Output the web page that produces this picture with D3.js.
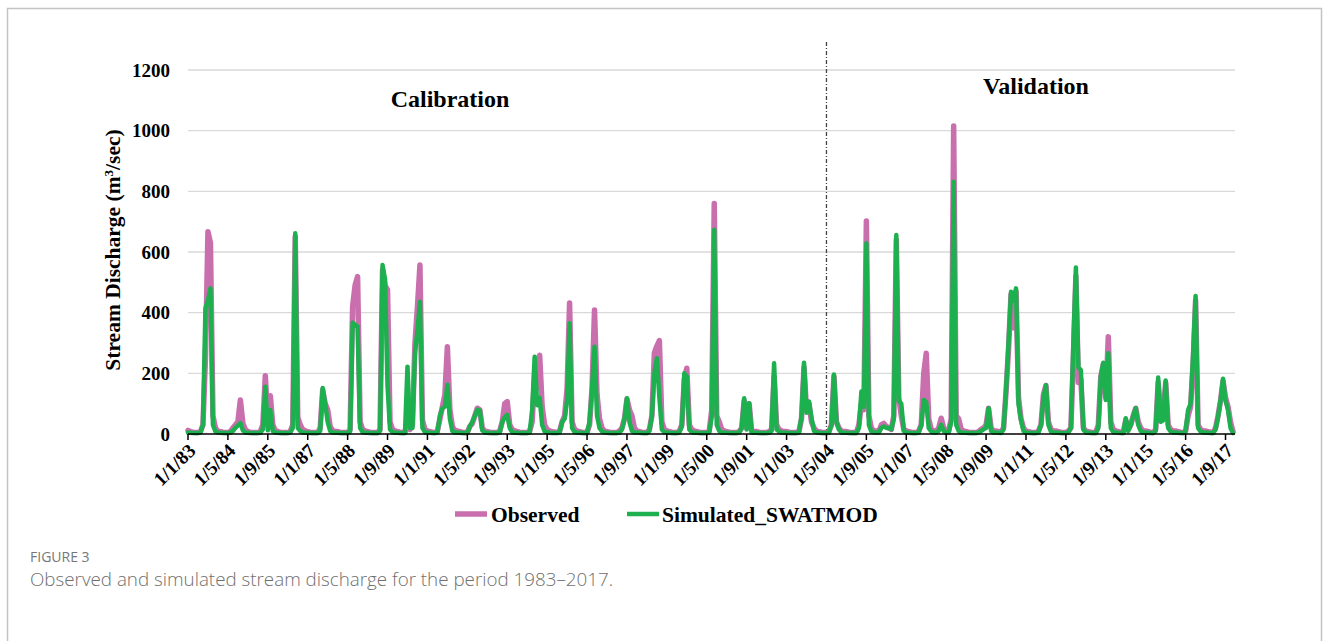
<!DOCTYPE html>
<html><head><meta charset="utf-8">
<script src="https://cdn.jsdelivr.net/npm/d3@7"></script>
<style>
body{margin:0;background:#fff;}
svg{display:block;}
</style></head><body>
<svg id="c" width="1329" height="641"></svg>
<script>
// ---- DATA ----
const startYear = 1983, endYear = 2017;
const yTicks = [0, 200, 400, 600, 800, 1000, 1200];
const tickLabels = ["1/1/83","1/5/84","1/9/85","1/1/87","1/5/88","1/9/89","1/1/91","1/5/92","1/9/93",
  "1/1/95","1/5/96","1/9/97","1/1/99","1/5/00","1/9/01","1/1/03","1/5/04","1/9/05","1/1/07",
  "1/5/08","1/9/09","1/1/11","1/5/12","1/9/13","1/1/15","1/5/16","1/9/17"];
const seriesNames = ["Observed", "Simulated_SWATMOD"];
const periodLabels = ["Calibration", "Validation"];
const splitLabel = "1/5/04";

// monthly observed discharge (m3/s), Jan..Dec for each year 1983..2017
const observed = [
  12, 8, 6, 5, 5, 8, 30, 250, 667, 630, 60, 20,      // 1983
  10, 8, 6, 5, 5, 8, 20, 30, 40, 112, 35, 15,        // 1984
  8, 6, 5, 5, 5, 8, 30, 192, 40, 126, 30, 12,        // 1985
  8, 6, 5, 5, 5, 8, 30, 650, 55, 30, 15, 10,         // 1986
  8, 6, 5, 5, 5, 20, 145, 100, 80, 25, 12, 8,        // 1987
  8, 6, 5, 5, 5, 15, 420, 490, 519, 40, 15, 10,      // 1988
  8, 6, 5, 5, 5, 15, 540, 490, 475, 40, 15, 10,      // 1989
  8, 6, 5, 5, 50, 15, 30, 300, 420, 557, 45, 15,     // 1990
  10, 8, 6, 5, 10, 50, 90, 130, 288, 80, 25, 12,     // 1991
  10, 8, 6, 5, 5, 25, 35, 60, 85, 80, 20, 10,        // 1992
  8, 6, 5, 5, 5, 10, 40, 100, 107, 30, 15, 10,       // 1993
  8, 6, 5, 5, 5, 10, 40, 200, 150, 260, 90, 30,      // 1994
  15, 10, 8, 6, 6, 10, 40, 60, 150, 432, 40, 15,     // 1995
  10, 8, 6, 5, 5, 30, 150, 409, 130, 50, 20, 10,     // 1996
  8, 6, 5, 5, 5, 10, 20, 50, 115, 80, 60, 20,        // 1997
  10, 8, 6, 5, 5, 15, 60, 267, 290, 308, 40, 15,     // 1998
  10, 8, 6, 5, 5, 10, 30, 180, 217, 30, 15, 10,      // 1999
  8, 6, 5, 5, 5, 10, 80, 760, 60, 40, 15, 10,        // 2000
  8, 6, 5, 5, 5, 8, 20, 110, 20, 100, 10, 8,         // 2001
  8, 6, 5, 5, 5, 8, 15, 190, 30, 15, 10, 8,          // 2002
  8, 6, 5, 5, 5, 10, 50, 220, 80, 100, 40, 20,       // 2003
  10, 8, 6, 5, 5, 8, 30, 190, 40, 20, 10, 8,         // 2004
  8, 6, 5, 5, 5, 30, 100, 80, 702, 60, 20, 10,       // 2005
  10, 8, 30, 35, 25, 20, 15, 60, 640, 120, 60, 15,   // 2006
  10, 8, 6, 5, 5, 10, 30, 200, 266, 50, 15, 10,      // 2007
  10, 20, 52, 20, 10, 10, 50, 1015, 60, 50, 15, 10,  // 2008
  8, 6, 5, 5, 5, 8, 15, 20, 30, 85, 20, 10,          // 2009
  10, 8, 6, 20, 140, 280, 460, 350, 470, 120, 50, 20,// 2010
  10, 8, 6, 5, 5, 10, 30, 130, 160, 40, 15, 10,      // 2011
  10, 8, 6, 5, 5, 10, 20, 250, 520, 170, 180, 20,    // 2012
  10, 8, 6, 5, 5, 30, 190, 230, 120, 321, 40, 15,    // 2013
  10, 8, 6, 5, 45, 15, 30, 60, 85, 40, 20, 10,       // 2014
  10, 8, 6, 5, 15, 170, 60, 60, 170, 30, 15, 10,     // 2015
  10, 8, 6, 5, 10, 60, 90, 230, 440, 30, 15, 10,     // 2016
  10, 8, 6, 5, 20, 60, 110, 175, 120, 90, 40, 8      // 2017
];

// monthly simulated discharge (SWAT-MODFLOW)
const simulated = [
  5, 4, 3, 3, 3, 5, 30, 415, 440, 480, 30, 8,        // 1983
  5, 4, 3, 3, 3, 5, 10, 20, 28, 36, 12, 5,           // 1984
  4, 3, 3, 3, 3, 4, 15, 156, 12, 79, 10, 5,          // 1985
  4, 3, 3, 3, 3, 5, 20, 662, 20, 10, 5, 4,           // 1986
  4, 3, 3, 3, 3, 10, 152, 100, 40, 10, 5, 4,         // 1987
  4, 3, 3, 3, 3, 8, 367, 360, 354, 20, 6, 4,         // 1988
  4, 3, 3, 3, 3, 10, 557, 510, 160, 15, 6, 4,        // 1989
  4, 3, 3, 3, 222, 20, 20, 267, 340, 436, 20, 6,     // 1990
  5, 4, 3, 3, 5, 60, 85, 90, 162, 50, 10, 5,         // 1991
  5, 4, 3, 3, 3, 25, 40, 60, 80, 78, 12, 5,          // 1992
  4, 3, 3, 3, 3, 5, 40, 55, 63, 20, 5, 4,            // 1993
  4, 3, 3, 3, 3, 5, 80, 255, 95, 119, 30, 8,         // 1994
  6, 4, 3, 3, 3, 5, 40, 50, 110, 365, 20, 6,         // 1995
  5, 4, 3, 3, 3, 40, 150, 288, 60, 20, 8, 5,         // 1996
  4, 3, 3, 3, 3, 5, 15, 50, 118, 40, 10, 5,          // 1997
  5, 4, 3, 3, 3, 10, 60, 200, 250, 120, 15, 6,       // 1998
  5, 4, 3, 3, 3, 5, 25, 200, 190, 15, 6, 4,          // 1999
  4, 3, 3, 3, 3, 5, 60, 673, 30, 10, 5, 4,           // 2000
  4, 3, 3, 3, 3, 5, 20, 118, 15, 101, 5, 4,          // 2001
  4, 3, 3, 3, 3, 5, 10, 233, 15, 8, 5, 4,            // 2002
  4, 3, 3, 3, 3, 5, 60, 235, 70, 107, 52, 10,        // 2003
  6, 4, 3, 3, 3, 5, 30, 196, 40, 15, 5, 4,           // 2004
  4, 3, 3, 3, 3, 20, 140, 90, 629, 30, 8, 5,         // 2005
  5, 5, 20, 25, 20, 20, 15, 50, 656, 110, 100, 10,   // 2006
  5, 4, 3, 3, 3, 5, 30, 112, 105, 20, 8, 5,          // 2007
  5, 10, 30, 10, 5, 5, 40, 832, 30, 10, 5, 4,        // 2008
  4, 3, 3, 3, 3, 5, 10, 15, 20, 85, 10, 5,           // 2009
  5, 4, 3, 15, 145, 300, 469, 440, 480, 100, 46, 10, // 2010
  5, 4, 3, 3, 3, 5, 30, 120, 161, 30, 8, 5,          // 2011
  5, 4, 3, 3, 3, 5, 20, 300, 549, 220, 211, 15,      // 2012
  5, 4, 3, 3, 3, 20, 190, 235, 112, 266, 20, 6,      // 2013
  5, 4, 3, 3, 52, 10, 30, 60, 85, 30, 10, 5,         // 2014
  5, 4, 3, 3, 10, 186, 40, 45, 176, 20, 8, 5,        // 2015
  5, 4, 3, 3, 10, 79, 100, 260, 455, 20, 8, 5,       // 2016
  5, 4, 3, 3, 15, 57, 110, 182, 110, 80, 20, 3       // 2017
];

// ---- CHART ----
const svg = d3.select("#c");
const serif = "'Liberation Serif','Times New Roman',serif";
const sans = "'Open Sans','Noto Sans',sans-serif";
const colObs = "#C96FAD", colSim = "#1DB04F";

// frame
svg.append("path").attr("d", "M7.5,700 V8.5 H1321.5 V700")
  .attr("fill", "none").attr("stroke", "#c4c4c4").attr("stroke-width", 1.5);

// month index helpers
const nMonths = (endYear - startYear + 1) * 12;
function labelToIndex(lbl) {
  const p = lbl.split("/");
  const m = +p[1], yy = +p[2];
  const yr = yy >= 50 ? 1900 + yy : 2000 + yy;
  return (yr - startYear) * 12 + (m - 1);
}

const x = d3.scaleLinear().domain([0, nMonths - 1]).range([188, 1233]);
const y = d3.scaleLinear().domain([0, 1200]).range([434, 70]);

// gridlines
svg.append("g").selectAll("line").data(yTicks.filter(d => d > 0)).join("line")
  .attr("x1", 188).attr("x2", 1235)
  .attr("y1", d => y(d)).attr("y2", d => y(d))
  .attr("stroke", "#d9d9d9").attr("stroke-width", 1.3);

// y tick labels
svg.append("g").selectAll("text").data(yTicks).join("text")
  .attr("x", 170).attr("y", d => y(d)).attr("dy", "0.35em")
  .attr("text-anchor", "end")
  .attr("font-family", serif).attr("font-weight", "bold").attr("font-size", 19)
  .attr("fill", "#000").text(d => d);

// y axis title
const yt = svg.append("text")
  .attr("transform", "translate(120,250) rotate(-90)")
  .attr("text-anchor", "middle")
  .attr("font-family", serif).attr("font-weight", "bold").attr("font-size", 21.5)
  .attr("fill", "#000");
yt.append("tspan").text("Stream Discharge (m");
yt.append("tspan").attr("baseline-shift", "super").attr("font-size", 13).text("3");
yt.append("tspan").text("/sec)");

// split line
const xs = x(labelToIndex(splitLabel));
svg.append("line").attr("x1", xs).attr("x2", xs).attr("y1", 42).attr("y2", 434)
  .attr("stroke", "#444").attr("stroke-width", 1.3)
  .attr("stroke-dasharray", "4,2,1,2");

// period labels
svg.append("text").attr("x", 450).attr("y", 107).attr("text-anchor", "middle")
  .attr("font-family", serif).attr("font-weight", "bold").attr("font-size", 24)
  .text(periodLabels[0]);
svg.append("text").attr("x", 1036).attr("y", 94).attr("text-anchor", "middle")
  .attr("font-family", serif).attr("font-weight", "bold").attr("font-size", 24)
  .text(periodLabels[1]);

// lines
const line = d3.line().x((d, i) => x(i)).y(d => y(d));
svg.append("path").datum(observed).attr("d", line)
  .attr("fill", "none").attr("stroke", colObs).attr("stroke-width", 5.5)
  .attr("stroke-linejoin", "round").attr("stroke-linecap", "round");
svg.append("path").datum(simulated).attr("d", line)
  .attr("fill", "none").attr("stroke", colSim).attr("stroke-width", 4.5)
  .attr("stroke-linejoin", "round").attr("stroke-linecap", "round");

// x axis
svg.append("line").attr("x1", 188).attr("x2", 1235).attr("y1", 434).attr("y2", 434)
  .attr("stroke", "#000").attr("stroke-width", 1.5);
const tickIdx = tickLabels.map(labelToIndex);
svg.append("g").selectAll("line").data(tickIdx).join("line")
  .attr("x1", d => x(d)).attr("x2", d => x(d)).attr("y1", 434).attr("y2", 440)
  .attr("stroke", "#000").attr("stroke-width", 1.5);
svg.append("g").selectAll("text").data(tickLabels).join("text")
  .attr("transform", (d, i) => `translate(${x(tickIdx[i]) + 4},${447}) rotate(-45)`)
  .attr("text-anchor", "end").attr("dy", "0.35em")
  .attr("font-family", serif).attr("font-weight", "bold").attr("font-size", 19.5)
  .text(d => d);

// legend
const lg = svg.append("g");
const ly = 514;
lg.append("line").attr("x1", 455).attr("x2", 487).attr("y1", ly).attr("y2", ly)
  .attr("stroke", colObs).attr("stroke-width", 5.5);
lg.append("text").attr("x", 491).attr("y", ly).attr("dy", "0.35em")
  .attr("font-family", serif).attr("font-weight", "bold").attr("font-size", 21.5)
  .text(seriesNames[0]);
lg.append("line").attr("x1", 627).attr("x2", 659).attr("y1", ly).attr("y2", ly)
  .attr("stroke", colSim).attr("stroke-width", 4.5);
lg.append("text").attr("x", 662).attr("y", ly).attr("dy", "0.35em")
  .attr("font-family", serif).attr("font-weight", "bold").attr("font-size", 21.5)
  .text(seriesNames[1]);

// caption
svg.append("text").attr("x", 30).attr("y", 562)
  .attr("font-family", sans).attr("font-size", 14).attr("fill", "#777")
  .text("FIGURE 3");
svg.append("text").attr("x", 30).attr("y", 586)
  .attr("font-family", sans).attr("font-size", 18.8).attr("fill", "#6f6f6f")
  .attr("font-weight", 300)
  .text("Observed and simulated stream discharge for the period 1983\u20132017.");
</script>
</body></html>
